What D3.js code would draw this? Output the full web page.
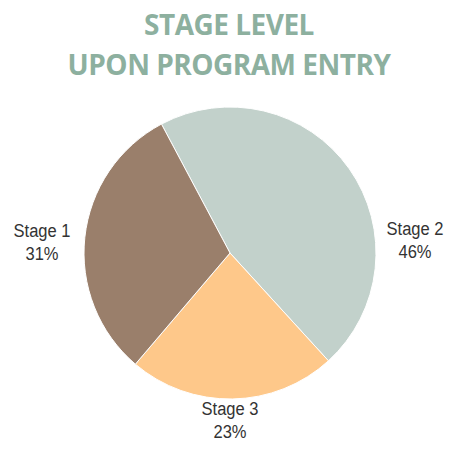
<!DOCTYPE html>
<html><head><meta charset="utf-8">
<script src="https://cdn.jsdelivr.net/npm/d3@7/dist/d3.min.js"></script>
<style>body{margin:0;background:#fff}svg{display:block}</style>
</head><body>
<svg id="c" width="450" height="449"></svg>
<script>
const categories = ["Stage 2", "Stage 3", "Stage 1"];
const values = [46, 23, 31];
const colors = ["#c2d1cb", "#fec88a", "#9a7f6b"];
const titleLines = ["STAGE LEVEL", "UPON PROGRAM ENTRY"];

const svg = d3.select("#c");
const cx = 230, cy = 253, r = 146;
const startDeg = -28;

svg.selectAll("text.title").data(titleLines).join("text")
  .attr("class","title")
  .attr("x", 229).attr("y", (d,i)=>35 + i*40)
  .attr("text-anchor","middle")
  .attr("font-family","'Open Sans', sans-serif")
  .attr("font-weight","bold")
  .attr("font-size", 28)
  .attr("letter-spacing", "-0.5")
  .attr("fill","#8db09f")
  .text(d=>d);

const pie = d3.pie().sort(null).value(d=>d)
  .startAngle(startDeg*Math.PI/180).endAngle((startDeg+360)*Math.PI/180);
const arcs = pie(values);
const arc = d3.arc().innerRadius(0).outerRadius(r);
const g = svg.append("g").attr("transform",`translate(${cx},${cy})`);
g.selectAll("path").data(arcs).join("path")
  .attr("d", arc).attr("fill",(d,i)=>colors[i]).attr("stroke","#fff").attr("stroke-width",1);

const labelPos = [[415,235],[230,415],[42,237]];
arcs.forEach((a,i)=>{
  [categories[i], values[i]+"%"].forEach((s,j)=>{
    svg.append("text")
      .attr("text-anchor","middle")
      .attr("font-family","'Liberation Sans', Arial, sans-serif")
      .attr("font-size",19)
      .attr("fill","#333")
      .attr("transform",`translate(${labelPos[i][0]},${labelPos[i][1]+j*23}) scale(0.87,1)`)
      .text(s);
  });
});
</script>
</body></html>
